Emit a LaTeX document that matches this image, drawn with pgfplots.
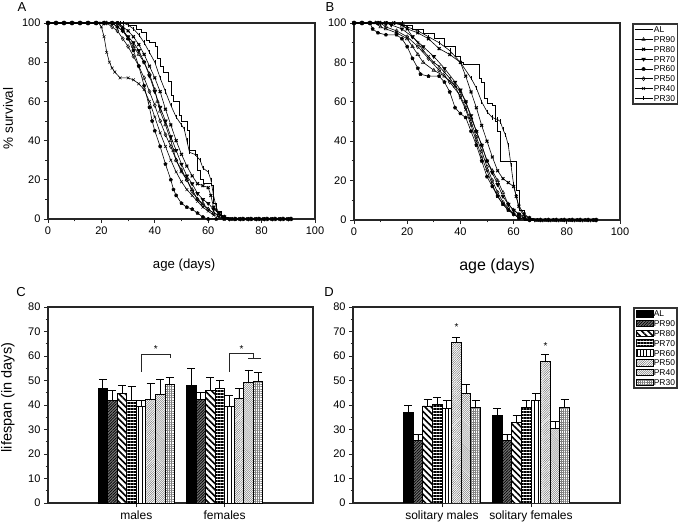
\documentclass[border=0pt]{standalone}
\usepackage{fontspec}
\setmainfont{Liberation Sans}
\usepackage{pgfplots}
\pgfplotsset{compat=1.18}
\usetikzlibrary{patterns,patterns.meta}

\pgfplotsset{
  base/.style={scale only axis, axis line style={line width=1.6bp, black!85},
    tick style={line width=0.9bp, black!85}, tick align=outside, tick pos=left,
    major tick length=4bp, minor tick length=2.5bp,
    ticklabel style={font=\fontsize{11bp}{13bp}\selectfont},
    /pgf/number format/assume math mode=true},
  surv/.style={base, xmin=0, xmax=100, ymin=0, ymax=100,
    xtick={0,20,...,100}, ytick={0,20,...,100}, minor x tick num=1, minor y tick num=1, clip=false},
  curve/.style={black, line width=0.6bp, sharp plot, mark size=2bp, mark options={solid, line width=0.5bp}},
  sAL/.style={curve, const plot, mark=none},
  s90/.style={curve, mark=triangle, mark options={solid, fill=white, line width=0.5bp}},
  s80/.style={curve, mark=x, mark options={solid, line width=1.1bp}},
  s70/.style={curve, mark=triangle*, mark options={solid, rotate=180}},
  s60/.style={curve, mark=pentagon*, mark size=1.7bp},
  s50/.style={curve, mark=diamond, mark options={solid, fill=white, line width=0.5bp}},
  s40/.style={curve, mark=x},
  s30/.style={curve, mark=|, mark size=2.1bp},
  bars/.style={base, ymin=0, ymax=80, ytick={0,10,...,80}, minor y tick num=1,
    xmin=0, xmax=3, xtick={1,2}, major x tick style={line width=0.9bp},
    xticklabel style={font=\fontsize{12bp}{14bp}\selectfont}},
  bb/.style={ybar, bar width=0.108, bar shift=0, draw=black, line width=0.8bp,
    error bars/y dir=plus, error bars/y explicit,
    error bars/error bar style={line width=0.9bp, black},
    error bars/error mark options={rotate=90, mark size=4bp, line width=0.9bp, black}},
  bAL/.style={fill=black},
  b90/.style={fill=black!55, postaction={pattern={Lines[angle=45,distance=2bp,line width=0.7bp]}, pattern color=black}},
  b80/.style={fill=white, postaction={pattern={Lines[angle=-45,distance=4.5bp,line width=1.6bp]}, pattern color=black}},
  b70/.style={fill=white, postaction={pattern={Lines[angle=0,distance=3bp,line width=1.3bp]}, pattern color=black}},
  b60/.style={fill=white, postaction={pattern={Lines[angle=90,distance=3.3bp,line width=0.8bp]}, pattern color=black}},
  b50/.style={fill=white, postaction={pattern={Lines[angle=45,distance=1.6bp,line width=0.35bp]}, pattern color=black!65}},
  b40/.style={fill=white, postaction={pattern={Lines[angle=-45,distance=1.4bp,line width=0.35bp]}, pattern color=black!55}},
  b30/.style={fill=white, postaction={pattern={Hatch[distance=2.2bp,line width=0.35bp]}, pattern color=black!50}},
  leg/.style={legend cell align=left,
    legend style={anchor=north west, draw=black!80, line width=1.6bp,
      font=\fontsize{8.5bp}{9bp}\selectfont, row sep=1bp, inner sep=1.5bp,
      nodes={text height=6.2bp, text depth=0bp, inner ysep=1.3bp, inner xsep=1bp}}},
}

\begin{document}
\begin{tikzpicture}
\useasboundingbox (0,0) rectangle (685bp,523bp);
\fill[white] (0,0) rectangle (685bp,523bp);

\node[font=\fontsize{13bp}{15bp}\selectfont] at (22bp,516bp) {A};
\node[font=\fontsize{13bp}{15bp}\selectfont] at (330bp,516bp) {B};
\node[font=\fontsize{13bp}{15bp}\selectfont] at (21bp,231bp) {C};
\node[font=\fontsize{13bp}{15bp}\selectfont] at (329bp,231bp) {D};

% ---------------- Panel A
\begin{axis}[surv, at={(48bp,304bp)}, anchor=south west, width=267bp, height=196bp,
  xlabel={age (days)}, ylabel={\% survival},
  xlabel style={at={(axis description cs:0.51,-0.254)}, anchor=base, font=\fontsize{13.2bp}{15bp}\selectfont},
  ylabel style={at={(axis description cs:-0.15,0.513)}, anchor=center, font=\fontsize{13.5bp}{15bp}\selectfont}]
\addplot[sAL] coordinates {(0,100)(28,100)(30,99)(33,97)(35,95)(37,91)(38,90)(40,88)(41,82)(42,78)(43,75)(45,70)(46,63)(47,60)(49,53)(50,50)(52,45)(53,35)(55,33)(56,25)(57,20)(58,18)(61,17)(62,8)(63,4)(65,1)(67,0)(91,0)};
\addplot[s90] coordinates {(0,100)(3,100)(6,100)(9,100)(12,100)(15,100)(18,100)(21,100)(24,100)(26,98)(28,96)(30,92)(32,88)(34,84)(36,80)(38,74)(40,66)(41,60)(42,55)(44,48)(46,40)(47,35)(48,30)(50,24)(52,20)(54,15)(56,10)(58,8)(60,5)(62,3)(64,2)(66,1)(70,0)(73,0)(76,0)(79,0)(82,0)(85,0)(88,0)(91,0)};
\addplot[s80] coordinates {(0,100)(3,100)(6,100)(9,100)(12,100)(15,100)(18,100)(21,100)(24,100)(26,100)(28,98)(30,96)(32,93)(34,89)(36,84)(38,78)(40,72)(42,65)(44,56)(46,48)(48,40)(50,33)(52,27)(54,22)(56,18)(58,17)(60,16)(61,12)(62,6)(64,3)(66,1)(68,0)(71,0)(74,0)(77,0)(80,0)(83,0)(86,0)(89,0)(91,0)};
\addplot[s70] coordinates {(0,100)(3,100)(6,100)(9,100)(12,100)(15,100)(18,100)(21,100)(24,100)(26,98)(28,96)(30,93)(32,90)(34,86)(36,80)(38,73)(40,65)(42,57)(44,50)(46,42)(48,35)(50,28)(52,22)(54,18)(56,13)(58,10)(60,8)(62,5)(64,3)(66,1)(68,0)(72,0)(75,0)(78,0)(81,0)(84,0)(87,0)(90,0)};
\addplot[s60] coordinates {(0,100)(3,100)(6,100)(9,100)(12,100)(15,100)(18,100)(21,100)(24,100)(26,100)(28,97)(30,92)(32,86)(34,78)(36,68)(38,57)(39,50)(40,45)(42,37)(44,28)(46,20)(47,15)(48,12)(50,8)(52,6)(54,5)(56,3)(58,1)(60,0)(63,0)(66,0)(69,0)(72,0)(75,0)(78,0)(81,0)(84,0)(87,0)(90,0)};
\addplot[s50] coordinates {(0,100)(3,100)(6,100)(9,100)(12,100)(15,100)(18,100)(21,100)(22,100)(24,98)(26,96)(28,92)(30,88)(32,83)(34,78)(36,72)(38,65)(40,58)(42,50)(44,43)(46,37)(48,30)(50,25)(52,20)(54,14)(56,10)(58,7)(60,5)(62,3)(64,2)(66,1)(70,0)(73,0)(76,0)(79,0)(82,0)(85,0)(88,0)(91,0)};
\addplot[s40] coordinates {(0,100)(3,100)(6,100)(9,100)(12,100)(15,100)(18,100)(19,100)(20,98)(21,93)(22,85)(23,80)(24,77)(25,75)(27,72)(30,72)(32,71)(34,69)(36,66)(38,60)(40,52)(42,44)(44,37)(46,30)(48,24)(50,19)(52,15)(54,12)(56,9)(58,6)(60,4)(62,2)(64,1)(66,0)(69,0)(72,0)(75,0)(78,0)(81,0)(84,0)(87,0)(90,0)};
\addplot[s30] coordinates {(0,100)(3,100)(6,100)(9,100)(12,100)(15,100)(18,100)(21,100)(24,100)(27,100)(28,100)(30,99)(32,97)(34,94)(36,90)(38,85)(40,80)(42,72)(44,65)(46,58)(48,52)(50,48)(51,46)(52,40)(53,34)(55,33)(57,30)(58,26)(60,24)(61,20)(62,12)(63,6)(64,3)(66,1)(70,0)(73,0)(76,0)(79,0)(82,0)(85,0)(88,0)(91,0)};
\end{axis}

% ---------------- Panel B
\begin{axis}[surv, leg, at={(354bp,303bp)}, anchor=south west, width=266bp, height=197bp,
  xlabel={age (days)},
  xlabel style={at={(axis description cs:0.538,-0.257)}, anchor=base, font=\fontsize{16bp}{18bp}\selectfont},
  legend image code/.code={\draw[mark repeat=2,mark phase=2,#1] plot coordinates {(0bp,0bp)(9bp,0bp)(18bp,0bp)};},
  legend style={at={(1.045,1)}}]
\addplot[sAL] coordinates {(0,100)(15,100)(18,99)(22,97)(26,95)(30,92)(34,88)(38,83)(40,80)(41,79)(46,79)(47,72)(48,70)(49,62)(50,59)(52,58)(53,50)(54,45)(55,30)(60,30)(61,15)(62,5)(64,0)(91,0)};
\addlegendentry{AL}
\addplot[s90] coordinates {(0,100)(3,100)(6,100)(8,100)(10,98)(12,97)(16,95)(20,92)(22,88)(24,84)(26,80)(30,76)(34,73)(38,68)(40,65)(42,60)(44,52)(46,45)(48,38)(50,30)(52,25)(54,20)(56,14)(58,8)(60,5)(62,3)(66,1)(70,0)(73,0)(76,0)(79,0)(82,0)(85,0)(88,0)(91,0)};
\addlegendentry{PR90}
\addplot[s80] coordinates {(0,100)(3,100)(6,100)(9,100)(12,100)(15,100)(18,99)(20,97)(24,95)(28,92)(32,87)(36,84)(40,80)(42,73)(44,65)(46,57)(48,48)(50,40)(52,32)(54,25)(56,21)(58,19)(60,17)(61,12)(62,7)(64,3)(66,1)(70,0)(73,0)(76,0)(79,0)(82,0)(85,0)(88,0)(91,0)};
\addlegendentry{PR80}
\addplot[s70] coordinates {(0,100)(3,100)(6,100)(9,100)(12,100)(14,99)(18,97)(22,93)(26,88)(30,83)(34,77)(38,70)(40,66)(42,60)(44,53)(46,45)(48,38)(50,30)(52,24)(54,18)(56,12)(58,8)(60,5)(62,3)(64,1)(68,0)(71,0)(74,0)(77,0)(80,0)(83,0)(86,0)(89,0)(91,0)};
\addlegendentry{PR70}
\addplot[s60] coordinates {(0,100)(3,100)(6,100)(7,97)(9,95)(12,94)(16,94)(18,92)(20,88)(22,82)(24,77)(25,74)(28,73)(32,73)(34,70)(36,65)(38,57)(40,54)(42,52)(44,45)(46,38)(48,30)(50,22)(52,17)(54,12)(56,8)(58,5)(60,3)(62,1)(66,0)(69,0)(72,0)(75,0)(78,0)(81,0)(84,0)(87,0)(90,0)};
\addlegendentry{PR60}
\addplot[s50] coordinates {(0,100)(3,100)(6,100)(9,100)(10,100)(12,98)(16,96)(20,93)(24,88)(28,82)(32,76)(36,70)(40,63)(42,57)(44,50)(46,42)(48,35)(50,27)(52,20)(54,14)(56,9)(58,6)(60,3)(62,2)(66,0)(70,0)(73,0)(76,0)(79,0)(82,0)(85,0)(88,0)(91,0)};
\addlegendentry{PR50}
\addplot[s40] coordinates {(0,100)(3,100)(6,100)(9,100)(12,100)(15,100)(18,99)(20,97)(22,93)(24,90)(26,86)(28,83)(30,80)(32,78)(34,75)(36,72)(38,68)(40,62)(42,56)(44,48)(46,40)(48,32)(50,25)(52,18)(54,12)(56,8)(58,5)(60,3)(62,1)(66,0)(69,0)(72,0)(75,0)(78,0)(81,0)(84,0)(87,0)(90,0)};
\addlegendentry{PR40}
\addplot[s30] coordinates {(0,100)(3,100)(6,100)(9,100)(12,100)(15,100)(18,100)(20,98)(24,96)(28,93)(32,90)(36,86)(40,80)(44,72)(46,67)(48,60)(50,55)(52,52)(54,51)(55,50)(56,46)(57,43)(58,38)(59,28)(60,18)(61,12)(62,6)(64,2)(66,1)(70,0)(73,0)(76,0)(79,0)(82,0)(85,0)(88,0)(91,0)};
\addlegendentry{PR30}
\end{axis}

% ---------------- Panel C
\begin{axis}[bars, at={(48bp,20bp)}, anchor=south west, width=265bp, height=196bp,
  xticklabels={males,females}, ylabel={lifespan (in days)},
  ylabel style={at={(axis description cs:-0.151,0.538)}, anchor=center, font=\fontsize{14.5bp}{16bp}\selectfont}]
\addplot[bb, bAL] coordinates {(0.622,46.8) +- (0,3.8) (1.622,47.9) +- (0,7.1)};
\addplot[bb, b90] coordinates {(0.730,41.8) +- (0,4.0) (1.730,42.3) +- (0,2.9)};
\addplot[bb, b80] coordinates {(0.838,44.8) +- (0,3.1) (1.838,45.8) +- (0,5.5)};
\addplot[bb, b70] coordinates {(0.946,42.0) +- (0,5.5) (1.946,46.8) +- (0,3.4)};
\addplot[bb, b60] coordinates {(1.054,39.3) +- (0,2.7) (2.054,39.3) +- (0,4.4)};
\addplot[bb, b50] coordinates {(1.162,42.3) +- (0,6.3) (2.162,42.7) +- (0,4.1)};
\addplot[bb, b40] coordinates {(1.270,44.4) +- (0,6.2) (2.270,49.1) +- (0,5.2)};
\addplot[bb, b30] coordinates {(1.378,48.4) +- (0,2.8) (2.378,49.5) +- (0,3.7)};
\draw[line width=0.8bp, black!85] (axis cs:1.054,53.6) -- (axis cs:1.054,60.8) -- (axis cs:1.385,60.8) -- (axis cs:1.385,59);
\draw[line width=0.8bp, black!85] (axis cs:2.054,53.6) -- (axis cs:2.054,61) -- (axis cs:2.33,61) -- (axis cs:2.33,59);
\draw[line width=0.8bp, black!85] (axis cs:2.265,59) -- (axis cs:2.41,59);
\node[font=\fontsize{10bp}{12bp}\selectfont] at (axis cs:1.22,63.0) {*};
\node[font=\fontsize{10bp}{12bp}\selectfont] at (axis cs:2.19,63.0) {*};
\end{axis}

% ---------------- Panel D
\begin{axis}[bars, leg, at={(353bp,20bp)}, anchor=south west, width=267bp, height=196bp,
  xticklabels={solitary males,solitary females},
  legend image code/.code={\draw[#1] (0bp,-3.3bp) rectangle (17bp,3.3bp);},
  legend style={at={(1.05,1)}, nodes={inner xsep=0.3bp}}]
\addplot[bb, bAL] coordinates {(0.622,37.0) +- (0,3.0) (1.622,35.6) +- (0,3.0)};
\addlegendentry{AL}
\addplot[bb, b90] coordinates {(0.730,25.7) +- (0,2.3) (1.730,25.4) +- (0,2.4)};
\addlegendentry{PR90}
\addplot[bb, b80] coordinates {(0.838,39.6) +- (0,2.7) (1.838,32.9) +- (0,3.0)};
\addlegendentry{PR80}
\addplot[bb, b70] coordinates {(0.946,40.4) +- (0,2.7) (1.946,39.1) +- (0,2.7)};
\addlegendentry{PR70}
\addplot[bb, b60] coordinates {(1.054,38.6) +- (0,3.2) (2.054,42.0) +- (0,2.8)};
\addlegendentry{PR60}
\addplot[bb, b50] coordinates {(1.162,65.4) +- (0,2.2) (2.162,57.7) +- (0,3.0)};
\addlegendentry{PR50}
\addplot[bb, b40] coordinates {(1.270,44.8) +- (0,3.4) (2.270,30.5) +- (0,2.7)};
\addlegendentry{PR40}
\addplot[bb, b30] coordinates {(1.378,39.1) +- (0,2.9) (2.378,39.1) +- (0,3.2)};
\addlegendentry{PR30}
\node[font=\fontsize{10bp}{12bp}\selectfont] at (axis cs:1.163,72.0) {*};
\node[font=\fontsize{10bp}{12bp}\selectfont] at (axis cs:2.163,64.0) {*};
\end{axis}
\end{tikzpicture}
\end{document}
